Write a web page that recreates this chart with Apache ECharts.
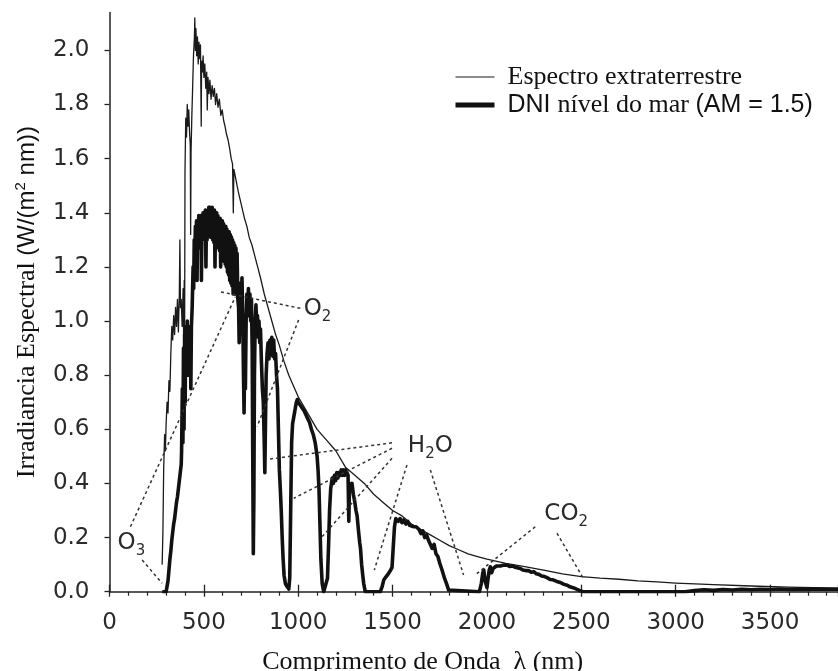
<!DOCTYPE html>
<html>
<head>
<meta charset="utf-8">
<script src="https://cdn.jsdelivr.net/npm/echarts@6/dist/echarts.min.js"></script>
<style>
html,body{margin:0;padding:0;background:#fff;}
#chart{width:838px;height:671px;}
</style>
</head>
<body>
<div id="chart"></div>
<script>
// ---- Data ----
const etrName = 'Espectro extraterrestre';
const dniName = 'DNI nível do mar (AM = 1.5)';
const xTickLabels = ['0','500','1000','1500','2000','2500','3000','3500'];
const yTickValues = [0,0.2,0.4,0.6,0.8,1.0,1.2,1.4,1.6,1.8,2.0];

const etrNm = [279,283,287,292,296,300,305,310,315,320,325,330,335,340,345,350,355,360,365,370,373,376,380,385,390,393,396,398,400,404,408,412,416,420,424,428,430,432,436,440,445,450,452,455,458,462,466,470,474,478,482,486,488,492,496,500,505,510,515,518,522,527,532,538,544,550,556,562,568,575,582,590,597,605,612,620,628,636,645,652,656,659,668,676,685,695,705,715,728,740,755,770,785,800,820,840,860,880,900,925,950,975,1000,1050,1100,1150,1200,1250,1300,1350,1400,1450,1500,1550,1600,1650,1700,1750,1800,1850,1900,1950,2000,2100,2200,2300,2400,2500,2600,2700,2800,2900,3000,3200,3400,3600,3860];
const etrVal = [0.10,0.22,0.45,0.58,0.52,0.62,0.70,0.66,0.78,0.74,0.88,0.98,0.93,1.02,0.95,1.05,0.98,1.08,0.96,1.10,1.30,1.05,1.08,0.98,1.12,0.92,1.15,0.90,1.55,1.75,1.68,1.80,1.72,1.78,1.70,1.65,1.32,1.62,1.75,1.85,1.98,2.05,2.12,2.00,2.08,1.98,2.05,1.95,2.03,1.97,2.02,1.72,1.96,1.92,1.98,1.90,1.95,1.86,1.92,1.78,1.90,1.84,1.89,1.82,1.87,1.83,1.86,1.80,1.84,1.79,1.82,1.76,1.78,1.74,1.72,1.69,1.67,1.64,1.60,1.58,1.40,1.56,1.53,1.50,1.47,1.44,1.41,1.38,1.35,1.31,1.28,1.24,1.20,1.16,1.10,1.05,1.00,0.95,0.91,0.85,0.80,0.76,0.72,0.66,0.60,0.56,0.52,0.46,0.43,0.40,0.36,0.33,0.30,0.28,0.25,0.23,0.21,0.19,0.17,0.155,0.14,0.13,0.12,0.105,0.093,0.08,0.066,0.056,0.05,0.046,0.04,0.036,0.032,0.026,0.021,0.017,0.013];

const dniNm = [280,300,305,310,315,320,325,330,335,340,345,350,355,360,365,370,375,380,382,386,389,392,395,398,401,404,408,412,416,420,424,428,431,434,438,440,443,446,449,452,455,458,461,464,467,470,473,476,479,482,485,487,490,493,496,499,502,505,508,511,514,517,520,523,526,529,532,535,538,541,544,547,550,553,556,559,562,565,568,571,574,577,580,583,586,589,592,595,598,601,604,607,610,613,616,619,622,625,628,631,634,637,640,643,646,649,652,655,658,661,664,667,670,673,676,680,684,687,690,694,698,702,706,710,713,716,720,724,728,732,736,740,744,748,752,756,759,762,765,768,772,776,780,784,788,792,796,800,805,810,815,820,823,826,830,835,840,845,850,855,860,865,870,875,880,885,890,895,900,905,910,915,920,925,932,940,950,955,960,965,970,980,990,995,1000,1010,1020,1030,1040,1050,1060,1070,1080,1090,1100,1105,1110,1115,1120,1127,1135,1145,1155,1162,1166,1172,1180,1186,1192,1198,1204,1210,1216,1222,1228,1234,1240,1246,1252,1258,1264,1268,1272,1278,1285,1292,1300,1306,1312,1320,1326,1330,1336,1342,1347,1355,1435,1445,1453,1465,1479,1490,1497,1503,1510,1517,1523,1530,1540,1550,1559,1570,1580,1590,1600,1612,1625,1640,1650,1660,1670,1680,1690,1700,1710,1720,1730,1740,1750,1762,1775,1788,1797,1805,1960,1970,1978,1983,1990,2000,2006,2012,2018,2025,2032,2040,2050,2060,2071,2085,2095,2106,2120,2135,2150,2165,2177,2190,2205,2220,2235,2248,2262,2275,2290,2305,2318,2335,2350,2370,2389,2405,2425,2440,2460,2480,2495,2510,3050,3100,3150,3200,3250,3300,3350,3400,3450,3500,3550,3600,3650,3700,3750,3800,3860];
const dniVal = [0,0,0.005,0.04,0.08,0.12,0.15,0.19,0.22,0.25,0.27,0.30,0.33,0.35,0.38,0.41,0.44,0.47,0.52,0.75,0.55,0.90,0.60,0.95,0.70,0.98,0.85,1.00,0.80,0.98,0.88,0.95,0.75,0.98,1.05,1.05,1.20,1.12,1.30,1.22,1.35,1.26,1.37,1.15,1.36,1.27,1.39,1.28,1.38,1.30,1.39,1.15,1.37,1.30,1.40,1.31,1.40,1.32,1.41,1.20,1.40,1.30,1.41,1.33,1.42,1.32,1.42,1.31,1.41,1.33,1.42,1.30,1.40,1.29,1.41,1.20,1.40,1.30,1.40,1.28,1.39,1.27,1.38,1.26,1.38,1.20,1.37,1.25,1.37,1.24,1.36,1.22,1.35,1.21,1.35,1.20,1.34,1.18,1.33,1.17,1.33,1.15,1.32,1.14,1.31,1.13,1.30,1.10,1.29,1.12,1.28,1.10,1.27,1.12,1.25,1.08,1.05,0.92,1.00,1.14,1.05,1.16,1.02,0.80,0.66,0.85,0.75,1.00,1.10,1.02,1.12,1.03,1.10,1.00,1.08,0.90,0.50,0.14,0.35,0.80,1.00,1.06,0.98,1.02,0.94,1.00,0.92,0.97,0.85,0.75,0.70,0.55,0.44,0.60,0.80,0.88,0.92,0.86,0.93,0.88,0.94,0.87,0.93,0.86,0.88,0.80,0.75,0.60,0.45,0.38,0.30,0.20,0.12,0.06,0.03,0.02,0.01,0.05,0.30,0.55,0.62,0.66,0.70,0.71,0.70,0.69,0.68,0.67,0.655,0.64,0.625,0.60,0.58,0.55,0.50,0.45,0.38,0.25,0.12,0.03,0,0,0.05,0.20,0.30,0.38,0.42,0.40,0.43,0.41,0.44,0.42,0.44,0.43,0.45,0.43,0.45,0.43,0.45,0.44,0.43,0.26,0.40,0.39,0.40,0.36,0.33,0.30,0.28,0.22,0.18,0.16,0.10,0.06,0.03,0,0,0.02,0.043,0.055,0.068,0.08,0.09,0.16,0.24,0.27,0.277,0.26,0.27,0.255,0.265,0.25,0.26,0.245,0.25,0.24,0.24,0.23,0.215,0.225,0.20,0.21,0.19,0.185,0.16,0.175,0.14,0.13,0.105,0.08,0.05,0.025,0.006,0,0,0.03,0.07,0.08,0.04,0.015,0.05,0.08,0.092,0.07,0.085,0.08,0.095,0.088,0.095,0.098,0.094,0.099,0.093,0.095,0.09,0.088,0.086,0.08,0.078,0.078,0.072,0.074,0.066,0.064,0.058,0.056,0.052,0.045,0.044,0.038,0.034,0.028,0.024,0.018,0.014,0.008,0.003,0,0,0.004,0.007,0.005,0.008,0.006,0.009,0.007,0.009,0.008,0.010,0.008,0.009,0.008,0.010,0.009,0.009];

// annotation labels: [text key, nm, value]
const annotLabels = [['O3',116,0.172],['O2',1102,1.037],['H2O',1700,0.53],['CO2',2420,0.278]];
// annotation dashed leaders: [nm1, v1, nm2, v2]
const annotLines = [
  [111,0.240,667,1.090],[173,0.117,279,0.031],
  [1011,1.047,588,1.108],[1002,1.004,782,0.610],
  [1497,0.550,835,0.489],[1497,0.530,976,0.345],[1497,0.493,1126,0.203],[1576,0.468,1403,0.080],[1700,0.450,1876,0.062],
  [2256,0.240,1938,0.062],[2371,0.216,2511,0.049]
];

// ---- Build chart ----
const etrData = etrNm.map((x,i)=>[x,etrVal[i]]);
const dniData = dniNm.map((x,i)=>[x,dniVal[i]]);

const labelRich = {
  m:{fontFamily:'DejaVu Sans',fontSize:23,color:'#2a2a2a',lineHeight:27,verticalAlign:'top'},
  s:{fontFamily:'DejaVu Sans',fontSize:15,color:'#2a2a2a',lineHeight:15,verticalAlign:'bottom'}
};
const labelFmt = {
  O3:'{m|O}{s|3}', O2:'{m|O}{s|2}', H2O:'{m|H}{s|2}{m|O}', CO2:'{m|CO}{s|2}'
};

const axisCol = '#222';
const chart = echarts.init(document.getElementById('chart'), null, {renderer:'canvas'});
chart.setOption({
  animation:false,
  backgroundColor:'#fff',
  grid:{left:109.5,right:0,top:12.5,bottom:79.3,containLabel:false,outerBoundsMode:'none'},
  legend:{
    orient:'vertical', left:453, top:64, padding:0, itemWidth:39, itemHeight:14, itemGap:2,
    selectedMode:false,
    itemStyle:{opacity:0},
    data:[
      {name:etrName, lineStyle:{width:1.2}},
      {name:dniName, lineStyle:{width:5}}
    ],
    formatter:function(n){
      return n===dniName ? '{s|DNI }{t|nível do mar }{s|(AM = 1.5)}' : '{t|'+n+'}';
    },
    textStyle:{
      padding:[0,0,0,8],
      rich:{
        t:{fontFamily:'Liberation Serif',fontSize:26,color:'#111',lineHeight:26},
        s:{fontFamily:'Liberation Sans',fontSize:25,color:'#111',lineHeight:26}
      }
    }
  },
  xAxis:[{
    type:'value', min:0, max:3860, interval:500,
    name:'Comprimento de Onda  λ (nm)', nameLocation:'middle', nameGap:57,
    nameTextStyle:{fontFamily:'Liberation Serif',fontSize:26,color:'#111',padding:[0,102,0,0]},
    axisLine:{show:true,onZero:false,lineStyle:{color:axisCol,width:1.5}},
    axisTick:{show:true,inside:false,length:5,lineStyle:{color:axisCol,width:1.3}},
    minorTick:{show:true,splitNumber:5,length:4,lineStyle:{color:axisCol,width:1.2}},
    splitLine:{show:false},
    axisLabel:{show:true,margin:20,showMaxLabel:false,fontFamily:'DejaVu Sans',fontSize:23,color:'#2a2a2a',
      formatter:function(v){return xTickLabels[v/500]!==undefined?xTickLabels[v/500]:'';}}
  },{
    type:'value', min:0, max:3860, interval:500, position:'bottom',
    axisLine:{show:false},
    axisTick:{show:true,inside:true,length:7,lineStyle:{color:axisCol,width:1.3}},
    axisLabel:{show:false}, splitLine:{show:false}
  }],
  yAxis:{
    type:'value', min:0, max:2.14, interval:0.2,
    name:'{a|Irradiancia Espectral }{b|(W/(m}{c|2}{b| nm))}', nameLocation:'middle', nameGap:68, nameRotate:90,
    nameTextStyle:{rich:{
      a:{fontFamily:'Liberation Serif',fontSize:26,color:'#111',lineHeight:28},
      b:{fontFamily:'Liberation Sans',fontSize:24,color:'#111',lineHeight:28},
      c:{fontFamily:'Liberation Sans',fontSize:15,color:'#111',lineHeight:28,verticalAlign:'top'}
    }},
    axisLine:{show:true,lineStyle:{color:axisCol,width:1.5}},
    axisTick:{show:true,inside:false,length:5,lineStyle:{color:axisCol,width:1.3},customValues:yTickValues},
    splitLine:{show:false},
    axisLabel:{show:true,margin:20,fontFamily:'DejaVu Sans',fontSize:23,color:'#2a2a2a',
      customValues:yTickValues,
      formatter:function(v){return v.toFixed(1);}}
  },
  series:[
    {name:etrName,type:'line',data:etrData,showSymbol:false,symbol:'none',sampling:null,
      lineStyle:{color:'#1a1a1a',width:1.3,join:'round'},itemStyle:{color:'#1a1a1a'},z:3},
    {name:dniName,type:'line',data:dniData,showSymbol:false,symbol:'none',
      lineStyle:{color:'#111',width:3.6,join:'round'},itemStyle:{color:'#111'},z:4},
    {name:'annot',type:'scatter',data:[],silent:true,z:5,
      markLine:{silent:true,symbol:['none','none'],label:{show:false},
        lineStyle:{color:'#333',width:1.5,type:[3,3]},
        data:annotLines.map(a=>[{coord:[a[0],a[1]]},{coord:[a[2],a[3]]}])},
      markPoint:{silent:true,symbol:'circle',symbolSize:1,itemStyle:{color:'rgba(0,0,0,0)'},
        label:{show:true,position:'inside',color:'#2a2a2a',rich:labelRich},
        data:annotLabels.map(a=>({coord:[a[1],a[2]],label:{show:true,formatter:labelFmt[a[0]]}}))}
    }
  ]
});
</script>
</body>
</html>
